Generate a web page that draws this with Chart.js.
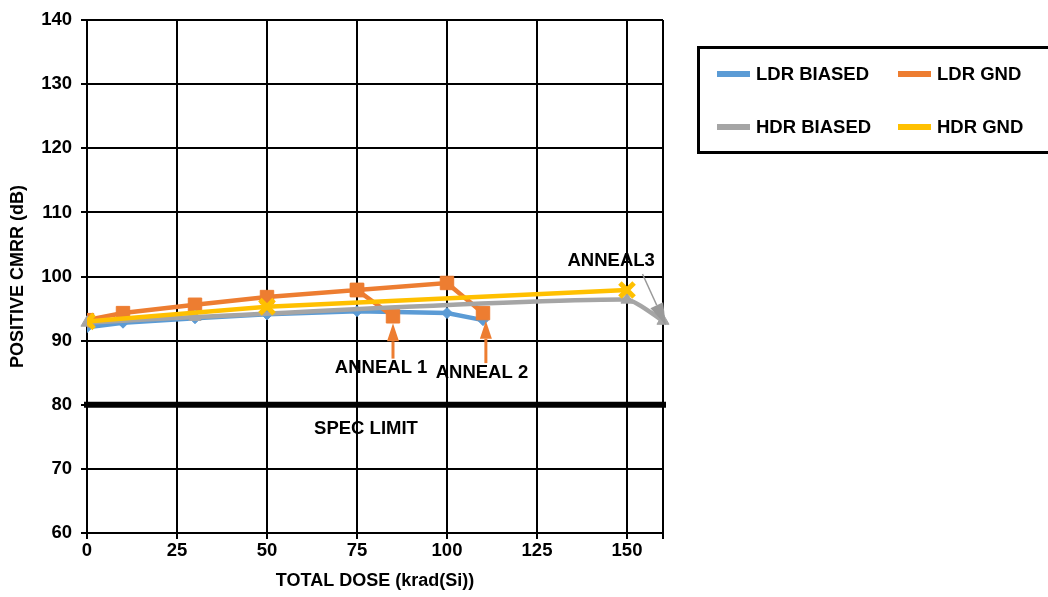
<!DOCTYPE html>
<html>
<head>
<meta charset="utf-8">
<script src="https://cdn.jsdelivr.net/npm/chart.js@4.4.0/dist/chart.umd.min.js"></script>
<style>
  html, body { margin: 0; padding: 0; background: #ffffff; }
  #wrap { width: 1048px; height: 597px; position: relative; }
</style>
</head>
<body>
<div id="wrap"><canvas id="cmrr" width="1048" height="597"></canvas></div>
<script>
// Total dose (krad(Si)) and positive CMRR (dB) per test condition
const doseLdrBiased = [0, 10, 30, 50, 75, 100, 110];
const cmrrLdrBiased = [92.1, 92.8, 93.5, 94.1, 94.6, 94.3, 93.2];

// LDR GND returns to the 75 krad reading after its first anneal step
const doseLdrGnd = [0, 10, 30, 50, 75, 85, 75, 100, 110];
const cmrrLdrGnd = [93.2, 94.3, 95.6, 96.8, 97.9, 93.8, 97.9, 99.0, 94.3];

const doseHdrBiased = [0, 30, 150, 160];
const cmrrHdrBiased = [92.8, 93.7, 96.4, 93.1];

const doseHdrGnd = [0, 50, 150];
const cmrrHdrGnd = [93.0, 95.3, 97.9];

const specDose = [0, 160];
const specCmrr = [80, 80];

// Axis tick labels
const doseTicks = [0, 25, 50, 75, 100, 125, 150];
const cmrrTicks = [60, 70, 80, 90, 100, 110, 120, 130, 140];

const seriesNames = ['LDR BIASED', 'LDR GND', 'HDR BIASED', 'HDR GND'];
const axisTitles = { x: 'TOTAL DOSE (krad(Si))', y: 'POSITIVE CMRR (dB)' };
const calloutLabels = ['ANNEAL 1', 'ANNEAL 2', 'ANNEAL3', 'SPEC LIMIT'];

const pts = (xs, ys) => xs.map((x, i) => ({ x: x, y: ys[i] }));

const FONT = '"Liberation Sans", Arial, sans-serif';
const BLUE = '#5B9BD5', ORANGE = '#ED7D31', GRAY = '#A5A5A5', GOLD = '#FFC000';
const DOSE_MAX = 160;

function arrow(ctx, x1, y1, x2, y2, color, shaft, headLen, headW) {
  const ang = Math.atan2(y2 - y1, x2 - x1);
  const bx = x2 - Math.cos(ang) * headLen, by = y2 - Math.sin(ang) * headLen;
  ctx.save();
  ctx.strokeStyle = color; ctx.fillStyle = color; ctx.lineWidth = shaft;
  ctx.beginPath(); ctx.moveTo(x1, y1); ctx.lineTo(bx, by); ctx.stroke();
  ctx.beginPath();
  ctx.moveTo(x2, y2);
  ctx.lineTo(bx + Math.sin(ang) * headW / 2, by - Math.cos(ang) * headW / 2);
  ctx.lineTo(bx - Math.sin(ang) * headW / 2, by + Math.cos(ang) * headW / 2);
  ctx.closePath(); ctx.fill();
  ctx.restore();
}

const callouts = {
  id: 'callouts',
  afterDatasetsDraw(chart) {
    const { ctx, scales: { x, y } } = chart;
    const px = v => x.getPixelForValue(v), py = v => y.getPixelForValue(v);
    ctx.save();
    ctx.font = 'bold 18.5px ' + FONT;
    ctx.fillStyle = '#000';
    ctx.textAlign = 'center'; ctx.textBaseline = 'middle';
    // anneal 1 : arrow up to the 85 krad point
    arrow(ctx, px(85), py(87.2), px(85), py(92.7), ORANGE, 3, 18, 12);
    ctx.fillText(calloutLabels[0], px(81.7), py(85.7));
    // anneal 2 : arrow up to the 110 krad point
    arrow(ctx, px(110.8), py(86.5), px(110.8), py(93.1), ORANGE, 3, 18, 12);
    ctx.fillText(calloutLabels[1], px(109.7), py(85.0));
    // anneal 3 : slanted grey arrow to the last HDR point
    arrow(ctx, px(154.3), py(100.4), px(160.8), py(92.4), '#999999', 1.5, 22, 14);
    ctx.fillText(calloutLabels[2], px(145.6), py(102.4));
    // spec limit caption
    ctx.fillText(calloutLabels[3], px(77.5), py(76.3));
    ctx.restore();
  }
};

const legendBox = {
  id: 'legendBox',
  afterDraw(chart) {
    const ctx = chart.ctx;
    ctx.save();
    ctx.strokeStyle = '#000'; ctx.lineWidth = 3;
    ctx.strokeRect(698.5, 47.5, 370, 105);
    const cols = [717, 898], rows = [74, 127];
    const colors = [BLUE, ORANGE, GRAY, GOLD];
    ctx.font = 'bold 18.5px ' + FONT;
    ctx.textBaseline = 'middle'; ctx.textAlign = 'left';
    seriesNames.forEach((name, i) => {
      const cx = cols[i % 2], cy = rows[Math.floor(i / 2)];
      ctx.strokeStyle = colors[i]; ctx.lineWidth = 6;
      ctx.beginPath(); ctx.moveTo(cx, cy); ctx.lineTo(cx + 33, cy); ctx.stroke();
      ctx.fillStyle = '#000';
      ctx.fillText(name, cx + 39, cy + 1);
    });
    ctx.restore();
  }
};

const tickFont = { family: FONT, size: 18.5, weight: 'bold' };
const titleFont = { family: FONT, size: 18, weight: 'bold' };

new Chart(document.getElementById('cmrr'), {
  type: 'line',
  data: {
    datasets: [
      {
        label: seriesNames[0], data: pts(doseLdrBiased, cmrrLdrBiased),
        borderColor: BLUE, backgroundColor: BLUE, borderWidth: 4.5,
        pointStyle: 'rectRot', pointRadius: 5.5, pointBorderWidth: 1, order: 4
      },
      {
        label: seriesNames[1], data: pts(doseLdrGnd, cmrrLdrGnd),
        borderColor: ORANGE, backgroundColor: ORANGE, borderWidth: 4.5,
        pointStyle: 'rect', pointRadius: 9.5, pointBorderWidth: 1, order: 3
      },
      {
        label: seriesNames[2], data: pts(doseHdrBiased, cmrrHdrBiased),
        borderColor: GRAY, backgroundColor: GRAY, borderWidth: 4.5, tension: 0.2,
        pointStyle: 'triangle', pointRadius: 7, pointBorderWidth: 1, order: 2, clip: 12
      },
      {
        label: seriesNames[3], data: pts(doseHdrGnd, cmrrHdrGnd),
        borderColor: GOLD, backgroundColor: GOLD, borderWidth: 4.5,
        pointStyle: 'crossRot', pointRadius: 10, pointBorderWidth: 5, order: 1
      },
      {
        label: 'spec', data: pts(specDose, specCmrr),
        borderColor: '#000', borderWidth: 6, borderCapStyle: 'square',
        pointRadius: 0, order: 5, clip: 10
      }
    ]
  },
  options: {
    responsive: false,
    animation: false,
    devicePixelRatio: 1,
    layout: { padding: { top: 17, right: 385, left: 0, bottom: 0 } },
    plugins: { legend: { display: false }, tooltip: { enabled: false } },
    scales: {
      x: {
        type: 'linear', min: 0, max: DOSE_MAX,
        afterFit(s) { s.height = 64; },
        afterBuildTicks(s) { s.ticks = doseTicks.concat([DOSE_MAX]).map(v => ({ value: v })); },
        grid: { color: '#000', lineWidth: 2, tickLength: 6, tickColor: '#000' },
        border: { color: '#000', width: 2 },
        ticks: {
          padding: 1, color: '#000', maxRotation: 0, autoSkip: false,
          font: tickFont,
          callback: v => (doseTicks.includes(v) ? String(v) : '')
        },
        title: {
          display: true, text: axisTitles.x, color: '#000',
          font: titleFont, padding: { top: 4, bottom: 5 }
        }
      },
      y: {
        min: 60, max: 140,
        afterFit(s) { s.width = 87; },
        afterBuildTicks(s) { s.ticks = cmrrTicks.map(v => ({ value: v })); },
        grid: { color: '#000', lineWidth: 2, tickLength: 6, tickColor: '#000' },
        border: { color: '#000', width: 2 },
        ticks: { padding: 9, color: '#000', autoSkip: false, font: tickFont },
        title: {
          display: true, text: axisTitles.y, color: '#000',
          font: titleFont, padding: { top: 7, bottom: 4 }
        }
      }
    }
  },
  plugins: [callouts, legendBox]
});
</script>
</body>
</html>
